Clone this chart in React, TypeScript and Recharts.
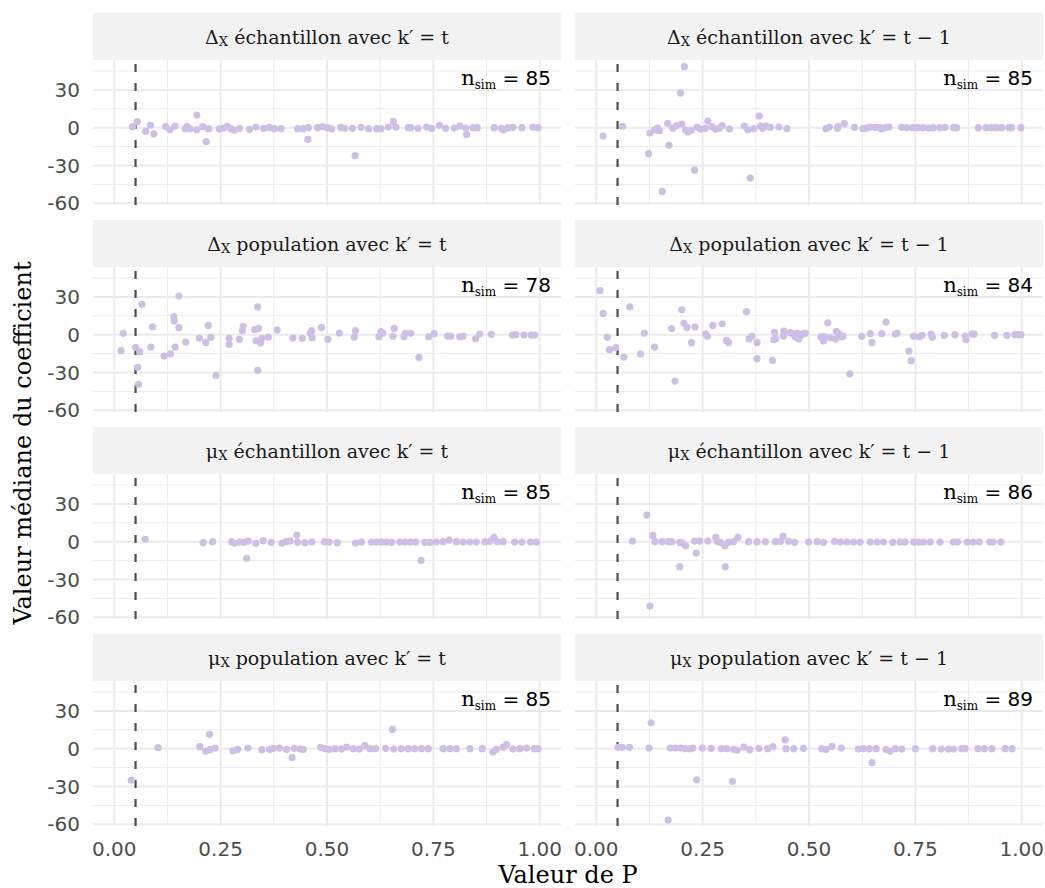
import React from 'react';
import { ScatterChart, Scatter, XAxis, YAxis, CartesianGrid, ReferenceLine } from 'recharts';

// axes
const xTicks = [0, 0.25, 0.5, 0.75, 1];
const xMinor = [0.125, 0.375, 0.625, 0.875];
const yTicks = [-60, -30, 0, 30];
const yMinor = [-45, -15, 15, 45];
const seuil = 0.05;

// [valeur de P, valeur médiane] per panel
const dEchT = [
  [0.043, 0.8], [0.054, 4.8], [0.074, -2.9], [0.085, 1.9], [0.093, -4.8], [0.121, 0.8], [0.131, -1.6], [0.143, 1.3],
  [0.167, -1], [0.171, 1], [0.178, -1], [0.194, 10], [0.194, -1.6], [0.208, 0.8], [0.216, -11.1], [0.222, -1],
  [0.247, -1], [0.257, -0.3], [0.265, 1], [0.275, -1], [0.282, -2], [0.294, -0.5], [0.318, -1.3], [0.333, 0.5],
  [0.351, -0.5], [0.364, 0.3], [0.376, -0.8], [0.392, -0.8], [0.431, -0.8], [0.444, -0.8], [0.456, 0], [0.455, -9.3],
  [0.478, 0], [0.49, 0.8], [0.501, 0], [0.511, -1], [0.532, 0.3], [0.542, -0.5], [0.56, -0.5], [0.566, -22.2],
  [0.58, 0.3], [0.598, -0.8], [0.617, -0.8], [0.627, -0.8], [0.644, 0.5], [0.656, 5], [0.662, 0.5], [0.691, 0],
  [0.697, 0], [0.714, -0.5], [0.734, 0.5], [0.746, -0.5], [0.764, 1.9], [0.779, -0.5], [0.799, -0.3], [0.812, 1.3],
  [0.826, -0.3], [0.828, -5.3], [0.843, 0], [0.853, 0], [0.893, 0], [0.91, -0.5], [0.915, -1.6], [0.926, 0],
  [0.937, 0.3], [0.958, 0], [0.984, 0.5], [0.996, 0],
];
const dEchT1 = [
  [0.016, -6.6], [0.062, 1.1], [0.123, -20.6], [0.126, -4.2], [0.137, -1.6], [0.144, -0.3], [0.148, -2.4], [0.155, -50.5],
  [0.168, 3.4], [0.171, -14], [0.18, -0.5], [0.188, 1.6], [0.198, 27.5], [0.201, 2.9], [0.207, 48.4], [0.21, -1.9],
  [0.215, -3.4], [0.223, -2.1], [0.231, -33.6], [0.237, 0.5], [0.245, -1.1], [0.256, -0.5], [0.262, 5.3], [0.272, 0.8],
  [0.28, -1.1], [0.289, -0.5], [0.296, 1.6], [0.313, -1.1], [0.348, 1.3], [0.356, -1.6], [0.362, -39.9], [0.37, -0.8],
  [0.383, 9.3], [0.386, 1.3], [0.391, -0.5], [0.399, 1.3], [0.409, 0.3], [0.429, 0.5], [0.448, -0.8], [0.54, -0.8],
  [0.548, 0.5], [0.567, -0.5], [0.568, 0.8], [0.583, 3.2], [0.607, 0.3], [0.627, -0.8], [0.636, -0.3], [0.644, 0.5],
  [0.656, 0.3], [0.666, 0], [0.671, -0.8], [0.679, 0], [0.688, 0.5], [0.718, 0.3], [0.73, 0], [0.744, 0],
  [0.755, 0], [0.768, 0], [0.781, -0.3], [0.792, 0], [0.808, 0], [0.82, 0.3], [0.84, 0], [0.847, 0],
  [0.898, 0], [0.916, 0], [0.929, 0], [0.94, 0], [0.953, 0], [0.97, 0], [0.976, 0], [0.998, 0],
];
const dPopT = [
  [0.016, -12.7], [0.021, 1.1], [0.05, -10], [0.055, -25.9], [0.057, -39.4], [0.06, -13.5], [0.065, 24.1], [0.086, -9.8],
  [0.09, 6.3], [0.117, -16.9], [0.132, -15.1], [0.14, 14.3], [0.141, 10.8], [0.143, -9.8], [0.152, 5.6], [0.152, 30.7],
  [0.168, -5.8], [0.2, -2.6], [0.215, -6.1], [0.221, 7.4], [0.227, -2.1], [0.239, -32.3], [0.27, -2.9], [0.27, -7.7],
  [0.294, -3.7], [0.301, 3.2], [0.303, 6.6], [0.33, 4], [0.337, 22], [0.337, -28.3], [0.333, -4.8], [0.339, 5],
  [0.344, -6.3], [0.347, -2.9], [0.362, -1.9], [0.383, 3.7], [0.42, -2.6], [0.442, -2.9], [0.461, 1.3], [0.465, -2.4],
  [0.464, 3.2], [0.487, 5.8], [0.502, -3.7], [0.529, 1.3], [0.567, 3.2], [0.564, -1.9], [0.622, -1.6], [0.627, 2.4],
  [0.631, 1.1], [0.655, -1.3], [0.658, 5], [0.681, -1.6], [0.684, 1.1], [0.697, 1.1], [0.716, -18], [0.739, -1.6],
  [0.752, 0.8], [0.783, -1.1], [0.791, -1.1], [0.812, -1.6], [0.82, -1.1], [0.849, -3.2], [0.859, 0.5], [0.886, 0.3],
  [0.936, -0.3], [0.944, 0], [0.963, -0.3], [0.98, -0.3], [0.988, -0.3],
];
const dPopT1 = [
  [0.009, 34.9], [0.016, 16.9], [0.026, -2.1], [0.031, -11.9], [0.046, -10.3], [0.065, -17.7], [0.079, 22], [0.113, 1.3],
  [0.104, -15.3], [0.137, -9.8], [0.177, 4.8], [0.185, -36.8], [0.201, 19.8], [0.206, 9], [0.213, 5.8], [0.224, -6.3],
  [0.232, 6.1], [0.257, 0.5], [0.261, -1.3], [0.274, 7.4], [0.296, 8.7], [0.306, -4.5], [0.311, -6.1], [0.353, 18.3],
  [0.359, -3.4], [0.366, -1.3], [0.378, -6.1], [0.378, -19], [0.414, -20.4], [0.417, -4], [0.419, 1.9], [0.422, -3.2],
  [0.44, -1.1], [0.441, 2.9], [0.456, 1.6], [0.462, 0.8], [0.468, -1.9], [0.472, 1.1], [0.476, -3.4], [0.48, -1.3],
  [0.484, 0.5], [0.491, 1.1], [0.528, -1.6], [0.534, -5], [0.536, -1.3], [0.544, 9.5], [0.55, -2.4], [0.562, -3.4],
  [0.564, 2.6], [0.57, 0.5], [0.576, -1.6], [0.58, -1.1], [0.596, -31], [0.624, -1.3], [0.644, 0.8], [0.648, -6.1],
  [0.671, 0.8], [0.681, 10], [0.703, 0.5], [0.707, 1.3], [0.735, -13], [0.74, -20.6], [0.746, -1.3], [0.76, -1.6],
  [0.766, -0.5], [0.787, 0.5], [0.79, -2.1], [0.818, -0.5], [0.843, 0], [0.867, -1.1], [0.869, -4], [0.883, 0.5],
  [0.888, 0.5], [0.936, -0.5], [0.965, -0.5], [0.984, 0], [0.992, 0], [0.998, 0],
];
const mEchT = [
  [0.073, 1.9], [0.209, -0.8], [0.231, 0], [0.276, 0], [0.282, -1.3], [0.294, -0.3], [0.304, -0.5], [0.315, 0.5],
  [0.311, -13.2], [0.333, -1.3], [0.35, 0.8], [0.369, -0.5], [0.394, -1.3], [0.404, 0], [0.413, 0.5], [0.429, 5.3],
  [0.431, -0.5], [0.448, -0.8], [0.464, -0.3], [0.494, 0], [0.505, -0.3], [0.524, -0.8], [0.567, -1.1], [0.581, -0.3],
  [0.605, -0.3], [0.617, -0.3], [0.628, -0.3], [0.64, -0.3], [0.652, -0.5], [0.671, -0.3], [0.683, -0.3], [0.696, -0.3],
  [0.709, -0.3], [0.721, -14.8], [0.73, -0.5], [0.742, -0.5], [0.757, -0.3], [0.773, 0], [0.787, 1.3], [0.804, 0],
  [0.82, -0.3], [0.836, -0.3], [0.851, -0.3], [0.871, 0], [0.883, 0.3], [0.892, 3.4], [0.9, 0], [0.914, 0],
  [0.941, -0.3], [0.958, -0.3], [0.978, -0.3], [0.992, -0.3],
];
const mEchT1 = [
  [0.085, 0.5], [0.119, 21.2], [0.126, -51], [0.133, 5], [0.138, 0], [0.155, 0], [0.17, 0], [0.178, 0],
  [0.196, -0.5], [0.196, -19.8], [0.202, -1.1], [0.21, -3.2], [0.231, 0.5], [0.235, -9], [0.243, 0.5], [0.262, 0.5],
  [0.281, 3.4], [0.284, 0.3], [0.292, -0.5], [0.302, -3.2], [0.303, -19.8], [0.311, -0.5], [0.323, 0], [0.333, 3.4],
  [0.358, 0], [0.378, 0], [0.397, 0], [0.421, 0], [0.433, 0.3], [0.439, 4.5], [0.452, 0.3], [0.466, -0.5],
  [0.499, -0.3], [0.519, 0], [0.534, -0.5], [0.56, 0.3], [0.574, -0.3], [0.589, -0.3], [0.605, -0.3], [0.62, -0.3],
  [0.644, -0.3], [0.66, -0.3], [0.675, -0.3], [0.697, -0.5], [0.714, -0.3], [0.726, -0.3], [0.746, -0.3], [0.757, -0.3],
  [0.769, -0.3], [0.785, -0.3], [0.808, -0.3], [0.839, -0.3], [0.849, -0.3], [0.872, -0.3], [0.886, -0.3], [0.9, -0.3],
  [0.925, -0.3], [0.933, -0.3], [0.951, -0.3],
];
const mPopT = [
  [0.04, -24.9], [0.103, 0.8], [0.201, 1.6], [0.215, -2.1], [0.224, 11.4], [0.225, -0.8], [0.237, 0.5], [0.279, -1.6],
  [0.29, -0.5], [0.314, 0.5], [0.347, -0.8], [0.365, -0.5], [0.374, 0.3], [0.388, 0.5], [0.405, -0.5], [0.418, -6.9],
  [0.423, 0.3], [0.437, -0.3], [0.444, -0.5], [0.485, 1.1], [0.495, 0], [0.505, -0.5], [0.519, 0], [0.534, -0.3],
  [0.546, 1.3], [0.562, 0], [0.576, -0.3], [0.589, 2.4], [0.601, 0], [0.614, 0], [0.638, 0.3], [0.654, 15.3],
  [0.657, -0.3], [0.675, 0], [0.691, 0], [0.706, 0], [0.722, 0], [0.738, 0], [0.773, 0], [0.789, 0],
  [0.804, 0], [0.836, 0], [0.865, 0], [0.89, -2.6], [0.898, -0.5], [0.914, 1.1], [0.922, 3.2], [0.937, -0.3],
  [0.953, 0], [0.969, 0.5], [0.987, 0], [0.996, 0],
];
const mPopT1 = [
  [0.051, 1.1], [0.061, 1.1], [0.078, 1.1], [0.124, 0.5], [0.129, 20.6], [0.169, -56.6], [0.174, 0.5], [0.186, 0.5],
  [0.198, 0.5], [0.209, 0], [0.22, 0], [0.227, 0.5], [0.236, -24.6], [0.249, 0.5], [0.27, 0.3], [0.294, 0],
  [0.307, 0], [0.32, -25.9], [0.323, -0.5], [0.331, -1.1], [0.347, 1.3], [0.361, -0.8], [0.382, 0.3], [0.403, 0],
  [0.415, 1.6], [0.444, 7.1], [0.446, 0], [0.464, 0], [0.487, 0.3], [0.53, 0], [0.54, -0.5], [0.554, 1.9],
  [0.576, 0.5], [0.616, -0.3], [0.628, 0], [0.642, 0], [0.648, -11.1], [0.658, 0], [0.681, -0.5], [0.691, -1.9],
  [0.703, 0], [0.718, -0.3], [0.75, 0], [0.791, 0], [0.811, -0.3], [0.828, -0.3], [0.84, -0.3], [0.859, 0],
  [0.867, 0], [0.897, 0], [0.912, 0], [0.93, 0], [0.961, 0], [0.977, 0],
];

const panels = [dEchT, dEchT1, dPopT, dPopT1, mEchT, mEchT1, mPopT, mPopT1];
const symboles = ['Δ', 'Δ', 'Δ', 'Δ', 'μ', 'μ', 'μ', 'μ'];
const groupes = ['échantillon', 'échantillon', 'population', 'population', 'échantillon', 'échantillon', 'population', 'population'];
const decalages = ['t', 't − 1', 't', 't − 1', 't', 't − 1', 't', 't − 1'];
const nSim = [85, 85, 78, 84, 85, 86, 85, 89];

const PT = '#CDBFE5';
const GRID = '#EBEBEB';
const ROW_TOP = [60, 267, 474, 681];
const COL_LEFT = [93, 575];
const PW = 468;
const PH = 145;
const STRIP_H = 47;
const YW = 93;
const XH = 50;
const PAD = 12; // room under the plot so the -60 label is not clipped

const tickStyle = { fontFamily: 'DejaVu Sans', fontSize: 20, fill: '#4D4D4D' };

const Point = (p: any) => <circle cx={p.cx} cy={p.cy} r={3.6} fill={PT} />;

function Panel({ i }: { i: number }) {
  const row = Math.floor(i / 2);
  const col = i % 2;
  const showY = col === 0;
  const showX = row === 3;
  const data = panels[i].map(([x, y]) => ({ x, y }));
  const plotLeft = COL_LEFT[col];
  const top = ROW_TOP[row];
  const chartLeft = showY ? plotLeft - YW : plotLeft;
  return (
    <>
      <div
        style={{
          position: 'absolute', left: plotLeft, top: top - STRIP_H, width: PW, height: STRIP_H,
          background: '#F2F2F2', display: 'flex', alignItems: 'center', justifyContent: 'center',
          fontFamily: 'DejaVu Serif', fontSize: 19, color: '#1A1A1A', whiteSpace: 'pre',
        }}
      >
        <span>{symboles[i]}</span>
        <span style={{ fontSize: 13, position: 'relative', top: 5 }}>X</span>
        <span>{` ${groupes[i]} avec k′ = ${decalages[i]}`}</span>
      </div>
      <div style={{ position: 'absolute', left: chartLeft, top }}>
        <ScatterChart
          width={(showY ? YW : 0) + PW}
          height={PH + (showX ? XH : PAD)}
          margin={{ top: 0, right: 0, bottom: showX ? 0 : PAD, left: 0 }}
        >
          <CartesianGrid horizontalValues={yMinor} verticalValues={xMinor} stroke={GRID} strokeWidth={1} />
          <CartesianGrid horizontalValues={yTicks} verticalValues={xTicks} stroke={GRID} strokeWidth={2} />
          <XAxis
            type="number" dataKey="x" domain={[-0.05, 1.05]} ticks={xTicks} hide={!showX} height={XH}
            axisLine={false} tickLine={false} tickSize={0} tickMargin={16} tick={tickStyle}
            tickFormatter={(v: number) => v.toFixed(2)} interval={0}
          />
          <YAxis
            type="number" dataKey="y" domain={[-61.3, 53.7]} ticks={yTicks} hide={!showY} width={YW}
            axisLine={false} tickLine={false} tickSize={0} tickMargin={13} tick={tickStyle} interval={0}
          />
          <Scatter data={data} fill={PT} shape={Point} isAnimationActive={false} />
          <ReferenceLine x={seuil} stroke="#4D4D4D" strokeWidth={2.2} strokeDasharray="8 11" />
        </ScatterChart>
      </div>
      <div
        style={{
          position: 'absolute', left: plotLeft, top: top + 5, width: PW - 10, textAlign: 'right',
          color: '#000', whiteSpace: 'pre', lineHeight: '26px',
        }}
      >
        <span style={{ fontFamily: 'DejaVu Serif', fontSize: 21 }}>n</span>
        <span style={{ fontFamily: 'DejaVu Serif', fontSize: 12, position: 'relative', top: 4 }}>sim</span>
        <span style={{ fontFamily: 'DejaVu Sans', fontSize: 20 }}>{` = ${nSim[i]}`}</span>
      </div>
    </>
  );
}

export default function App() {
  return (
    <div style={{ position: 'relative', width: 1045, height: 888, background: '#fff', overflow: 'hidden' }}>
      <style>{'body{margin:0}'}</style>
      {panels.map((_, i) => <Panel key={i} i={i} />)}
      <div
        style={{
          position: 'absolute', left: 368, top: 859, width: 400, height: 32, lineHeight: '32px',
          textAlign: 'center', fontFamily: 'DejaVu Serif', fontSize: 24, color: '#000',
        }}
      >
        Valeur de P
      </div>
      <div
        style={{
          position: 'absolute', left: 23 - 250, top: 443 - 16, width: 500, height: 32, lineHeight: '32px',
          textAlign: 'center', fontFamily: 'DejaVu Serif', fontSize: 24, color: '#000',
          transform: 'rotate(-90deg)',
        }}
      >
        Valeur médiane du coefficient
      </div>
    </div>
  );
}
